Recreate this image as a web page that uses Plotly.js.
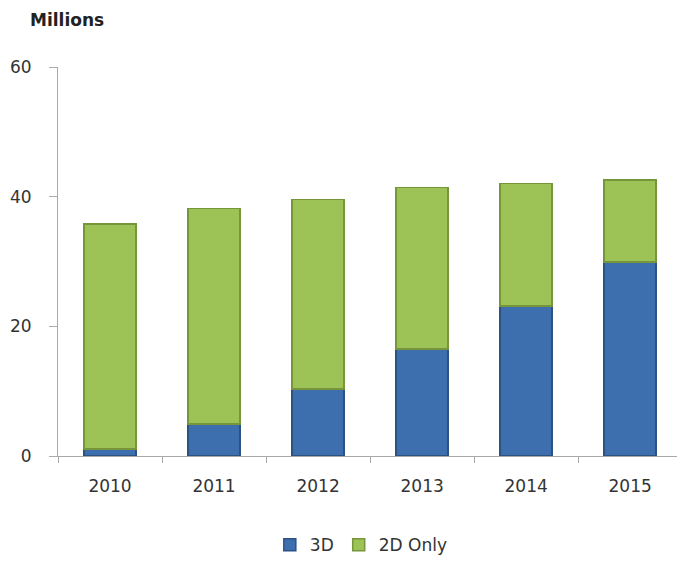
<!DOCTYPE html>
<html>
<head>
<meta charset="utf-8">
<script src="https://cdn.plot.ly/plotly-3.0.1.min.js"></script>
<style>html,body{margin:0;padding:0;background:#fff;}#chart{width:677px;height:561px;}</style>
</head>
<body>
<div id="chart"></div>
<script>
const years = ['2010', '2011', '2012', '2013', '2014', '2015'];
const threeD = [1.1, 4.9, 10.3, 16.5, 23.1, 29.9];
const twoDOnly = [34.7, 33.3, 29.3, 24.9, 18.9, 12.7];
const yTicks = [0, 20, 40, 60];

const traces = [
  {type: 'bar', name: '3D', x: years, y: threeD,
   marker: {color: '#3d6fae', line: {color: '#2c5283', width: 1.5}}},
  {type: 'bar', name: '2D Only', x: years, y: twoDOnly,
   marker: {color: '#9dc256', line: {color: '#77963c', width: 1.5}}}
];

const layout = {
  width: 677, height: 561,
  margin: {l: 58, r: 0, t: 67, b: 105, autoexpand: false},
  paper_bgcolor: '#fff', plot_bgcolor: '#fff',
  barmode: 'stack', bargap: 0.5,
  font: {family: 'DejaVu Sans, sans-serif', size: 17, color: '#333'},
  showlegend: true,
  legend: {orientation: 'h', x: 0.49, xanchor: 'center', yref: 'container', y: 0.028, yanchor: 'middle',
           font: {size: 17, color: '#333'}, itemwidth: 30, traceorder: 'normal'},
  xaxis: {type: 'category', range: [-0.5, 5.45], showline: true, linecolor: '#aaa', linewidth: 1,
          ticks: 'outside', tickson: 'boundaries', ticklen: 6, tickcolor: '#aaa',
          showgrid: false, zeroline: false, ticklabelstandoff: 15},
  yaxis: {range: [0, 60], tickvals: yTicks, showline: true, linecolor: '#aaa', linewidth: 1,
          ticks: 'outside', ticklen: 8, tickcolor: '#aaa', showgrid: false, zeroline: false,
          ticklabelstandoff: 14},
  annotations: [{text: '<b>Millions</b>', xref: 'paper', yref: 'paper', x: -0.048, y: 1.12,
                 xanchor: 'left', yanchor: 'middle', showarrow: false,
                 font: {family: 'DejaVu Sans, sans-serif', size: 17, color: '#222'}}]
};

Plotly.newPlot('chart', traces, layout, {displayModeBar: false});
</script>
</body>
</html>
